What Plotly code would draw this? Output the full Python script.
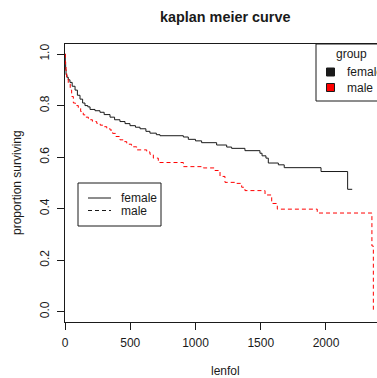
import plotly.graph_objects as go

# ---- data ----
female_time = [0, 2, 5, 8, 15, 25, 38, 55, 77, 95, 115, 135, 153, 175, 192, 230, 268, 300,
               345, 380, 421, 460, 498, 540, 575, 620, 651, 700, 728, 907, 945, 1000, 1047,
               1162, 1239, 1277, 1379, 1494, 1510, 1540, 1558, 1635, 1680, 1962, 2166, 2201]
female_surv = [1.0, 0.97, 0.94, 0.92, 0.91, 0.90, 0.89, 0.875, 0.86, 0.84, 0.825, 0.81, 0.80,
               0.795, 0.785, 0.78, 0.774, 0.765, 0.755, 0.745, 0.738, 0.73, 0.722, 0.716, 0.71,
               0.70, 0.693, 0.687, 0.683, 0.678, 0.669, 0.663, 0.656, 0.647, 0.639, 0.634,
               0.625, 0.615, 0.605, 0.596, 0.577, 0.57, 0.559, 0.544, 0.475, 0.475]

male_time = [0, 3, 8, 13, 25, 40, 51, 64, 80, 102, 120, 140, 160, 179, 210, 243, 270, 294, 320,
             345, 365, 390, 421, 450, 473, 510, 549, 626, 651, 677, 715, 907, 1060, 1149, 1188,
             1226, 1316, 1354, 1379, 1533, 1584, 1627, 1933, 2352, 2363]
male_surv = [1.0, 0.96, 0.93, 0.91, 0.886, 0.86, 0.835, 0.81, 0.80, 0.79, 0.777, 0.764, 0.755,
             0.745, 0.738, 0.731, 0.724, 0.718, 0.711, 0.705, 0.692, 0.68, 0.667, 0.66, 0.65,
             0.64, 0.628, 0.62, 0.611, 0.596, 0.579, 0.563, 0.558, 0.548, 0.525, 0.502, 0.498,
             0.483, 0.47, 0.453, 0.42, 0.398, 0.383, 0.255, 0.0]

x_ticks = [0, 500, 1000, 1500, 2000]
y_ticks = [0.0, 0.2, 0.4, 0.6, 0.8, 1.0]
y_tick_labels = ["0.0", "0.2", "0.4", "0.6", "0.8", "1.0"]

title_text = "kaplan meier curve"
x_title = "lenfol"
y_title = "proportion surviving"
legend_title = "group"
groups = ["female", "male"]

# ---- layout helpers ----
W, H = 377, 378
L, R, T, B = 65, 377, 44, 322   # plot box in window pixels
FONT = "Liberation Sans, Arial, sans-serif"
INK = "#1a1a1a"


def px(x):
    return (x - L) / (R - L)


def py(y):
    return (B - y) / (B - T)


fig = go.Figure()
fig.add_trace(go.Scatter(x=female_time, y=female_surv, mode="lines", line_shape="hv",
                         line=dict(color=INK, width=1), name=groups[0], showlegend=False))
fig.add_trace(go.Scatter(x=male_time, y=male_surv, mode="lines", line_shape="hv",
                         line=dict(color="red", width=1, dash="4px,3px"), name=groups[1],
                         showlegend=False))

shapes = []
annotations = []

# top-right legend (clipped)
shapes.append(dict(type="rect", xref="paper", yref="paper", x0=px(316), x1=px(420),
                   y0=py(101), y1=py(44), line=dict(color=INK, width=1), fillcolor="white",
                   layer="above"))
annotations.append(dict(text=legend_title, x=px(351), y=py(54), xref="paper", yref="paper",
                        showarrow=False, xanchor="center", yanchor="middle",
                        font=dict(family=FONT, size=12, color=INK)))
for i, (g, col) in enumerate(zip(groups, [INK, "red"])):
    yc = 72 + i * 15.5
    shapes.append(dict(type="rect", xref="paper", yref="paper", x0=px(326.5), x1=px(334.5),
                       y0=py(yc + 4), y1=py(yc - 4), line=dict(color=INK, width=1),
                       fillcolor=col, layer="above"))
    annotations.append(dict(text=g, x=px(345), y=py(yc), xref="paper", yref="paper",
                            showarrow=False, xanchor="left", yanchor="middle",
                            font=dict(family=FONT, size=12, color=INK)))

# left legend (line styles)
shapes.append(dict(type="rect", xref="paper", yref="paper", x0=px(78), x1=px(161),
                   y0=py(226), y1=py(183), line=dict(color=INK, width=1), fillcolor="white",
                   layer="above"))
for i, (g, dash) in enumerate(zip(groups, ["solid", "4px,3px"])):
    yc = 198 + i * 12.5
    shapes.append(dict(type="line", xref="paper", yref="paper", x0=px(88), x1=px(111),
                       y0=py(yc), y1=py(yc), line=dict(color=INK, width=1, dash=dash),
                       layer="above"))
    annotations.append(dict(text=g, x=px(119), y=py(yc), xref="paper", yref="paper",
                            showarrow=False, xanchor="left", yanchor="middle",
                            font=dict(family=FONT, size=12, color=INK)))

# titles
annotations.append(dict(text="<b>" + title_text + "</b>", x=px(225), y=py(17), xref="paper",
                        yref="paper", showarrow=False, xanchor="center", yanchor="middle",
                        font=dict(family=FONT, size=14.4, color=INK)))
annotations.append(dict(text=x_title, x=px(225), y=py(371), xref="paper", yref="paper",
                        showarrow=False, xanchor="center", yanchor="middle",
                        font=dict(family=FONT, size=12, color=INK)))
annotations.append(dict(text=y_title, x=px(17), y=py(183), xref="paper", yref="paper",
                        showarrow=False, xanchor="center", yanchor="middle", textangle=-90,
                        font=dict(family=FONT, size=12, color=INK)))

fig.update_layout(
    width=W, height=H,
    margin=dict(l=L, r=W - R, t=T, b=H - B, pad=0),
    paper_bgcolor="white", plot_bgcolor="white",
    font=dict(family=FONT, size=12, color=INK),
    showlegend=False,
    shapes=shapes, annotations=annotations,
    xaxis=dict(range=[0, 2391], tickvals=x_ticks, ticks="outside", ticklen=7, tickwidth=1,
               tickcolor=INK, showline=True, linecolor=INK, linewidth=1, mirror=True,
               showgrid=False, zeroline=False, ticklabelstandoff=3,
               tickfont=dict(family=FONT, size=12, color=INK)),
    yaxis=dict(range=[-0.04, 1.039], tickvals=y_ticks, ticktext=y_tick_labels,
               tickangle=-90, ticks="outside", ticklen=7, tickwidth=1, tickcolor=INK,
               showline=True, linecolor=INK, linewidth=1, mirror=False, showgrid=False,
               zeroline=False, ticklabelstandoff=3,
               tickfont=dict(family=FONT, size=12, color=INK)),
)

fig.write_html(
    "out.html",
    config={"displayModeBar": False, "staticPlot": True},
    post_script="document.documentElement.style.margin='0';"
                "document.body.style.margin='0';document.body.style.padding='0';"
                "document.body.style.overflow='hidden';",
)
